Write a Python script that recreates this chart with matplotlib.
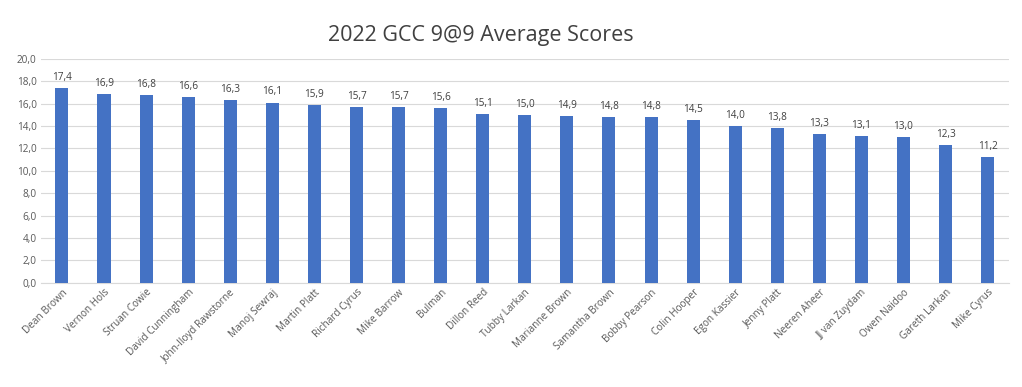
import matplotlib.pyplot as plt

names = ['Dean Brown', 'Vernon Hols', 'Struan Cowie', 'David Cunningham',
         'John-lloyd Rawstorne', 'Manoj Sewraj', 'Martin Platt', 'Richard Cyrus',
         'Mike Barrow', 'Bulman', 'Dillon Reed', 'Tubby Larkan', 'Marianne Brown',
         'Samantha Brown', 'Bobby Pearson', 'Colin Hooper', 'Egon Kassier',
         'Jenny Platt', 'Neeren Aheer', 'JJ van Zuydam', 'Owen Naidoo',
         'Gareth Larkan', 'Mike Cyrus']
scores = [17.4, 16.9, 16.8, 16.6, 16.3, 16.1, 15.9, 15.7, 15.7, 15.6, 15.1, 15.0,
          14.9, 14.8, 14.8, 14.5, 14.0, 13.8, 13.3, 13.1, 13.0, 12.3, 11.2]
yticks = [0, 2, 4, 6, 8, 10, 12, 14, 16, 18, 20]

plt.rcParams['font.family'] = ['Open Sans', 'DejaVu Sans']
grey = '#595959'

fig = plt.figure(figsize=(10.22, 3.87), dpi=100)
ax = fig.add_axes([0.040, 0.269, 0.947, 0.579])
x = range(len(names))
bars = ax.bar(x, scores, width=0.31, color='#4472C4', zorder=3)
for b, v in zip(bars, scores):
    ax.text(b.get_x() + b.get_width() / 2, v + 0.45, f'{v:.1f}'.replace('.', ','),
            ha='center', va='bottom', fontsize=7.2, color='#404040')

ax.set_xlim(-0.5, len(names) - 0.5)
ax.set_ylim(0, 20)
ax.set_yticks(yticks)
ax.set_yticklabels([f'{t:.1f}'.replace('.', ',') for t in yticks], fontsize=7.2, color=grey)
ax.set_xticks(list(x))
ax.set_xticklabels(names, rotation=45, ha='right', rotation_mode='anchor',
                   fontsize=7.2, color=grey)
ax.tick_params(axis='both', length=0, pad=3)
ax.grid(axis='y', color='#d9d9d9', linewidth=0.8, zorder=0)
for s in ['top', 'right', 'left']:
    ax.spines[s].set_visible(False)
ax.spines['bottom'].set_color('#d9d9d9')
fig.suptitle('2022 GCC 9@9 Average Scores', x=0.47, y=0.935, fontsize=15.5, color='#404040')

fig.savefig('out.png', dpi=100, facecolor='white')
